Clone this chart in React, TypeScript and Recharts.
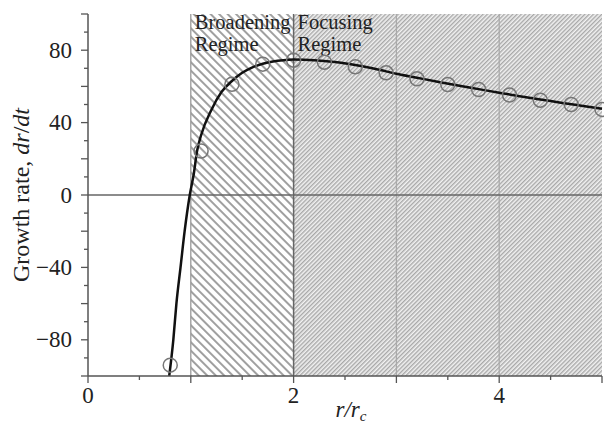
import React from 'react';
import {
  ComposedChart, Line, Scatter, XAxis, YAxis, ReferenceArea, ReferenceLine,
} from 'recharts';

// fitted curve
const curveX = [0.79, 0.83, 0.86, 0.9, 0.94, 0.99, 1.03, 1.06, 1.1, 1.2, 1.3, 1.4, 1.5, 1.6, 1.7, 1.8, 1.9, 2.0, 2.2, 2.4, 2.6, 2.8, 3.0, 3.2, 3.4, 3.6, 3.8, 4.0, 4.2, 4.4, 4.6, 4.8, 5.0];
const curveY = [-100, -80, -60, -40, -20, 0, 12, 24, 33, 47, 57, 63, 67.5, 70.5, 72.5, 73.8, 74.5, 74.8, 74.5, 73.5, 71.8, 69.6, 67, 64.8, 62.6, 60.5, 58.5, 56.5, 54.6, 52.8, 51, 49.3, 47.6];

// simulation points
const pointX = [0.8, 1.1, 1.4, 1.7, 2.0, 2.3, 2.6, 2.9, 3.2, 3.5, 3.8, 4.1, 4.4, 4.7, 5.0];
const pointY = [-94, 24.3, 61.2, 72.3, 74.5, 73.4, 70.8, 67.5, 64.2, 61, 58.3, 55.2, 52.4, 50, 47.3];

const xTicks = [0, 0.5, 1, 1.5, 2, 2.5, 3, 3.5, 4, 4.5, 5];
const xMajor = [0, 1, 2, 3, 4, 5];
const xLabels = [0, 2, 4];
const yTicks = [-100, -90, -80, -70, -60, -50, -40, -30, -20, -10, 0, 10, 20, 30, 40, 50, 60, 70, 80, 90, 100];
const yMajor = [-100, -80, -60, -40, -20, 0, 20, 40, 60, 80, 100];
const yLabels = [-80, -40, 0, 40, 80];

const curve = curveX.map((x, i) => ({ x, y: curveY[i] }));
const points = pointX.map((x, i) => ({ x, y: pointY[i] }));

const FONT = '"Liberation Serif", "DejaVu Serif", serif';
const TICK = '#555';

const fmt = (v: number) => (v < 0 ? '\u2212' + Math.abs(v) : String(v));

const LeftTick = ({ x, y, payload }: any) => {
  const v = payload.value;
  const len = yMajor.includes(v) ? 7 : 4;
  return (
    <g>
      <line x1={x - len} y1={y} x2={x} y2={y} stroke={TICK} strokeWidth={1.3} />
      {yLabels.includes(v) && (
        <text x={x - 16} y={y} textAnchor="end" dominantBaseline="central"
          fontFamily={FONT} fontSize={23} fill="#222">{fmt(v)}</text>
      )}
    </g>
  );
};

const RightTick = ({ x, y, payload }: any) => {
  const len = yMajor.includes(payload.value) ? 7 : 4;
  return <line x1={x - len} y1={y} x2={x} y2={y} stroke={TICK} strokeWidth={1.3} />;
};

const BottomTick = ({ x, y, payload }: any) => {
  const v = payload.value;
  const len = xMajor.includes(v) ? 7 : 4;
  return (
    <g>
      <line x1={x} y1={y} x2={x} y2={y + len} stroke={TICK} strokeWidth={1.3} />
      {xLabels.includes(v) && (
        <text x={x} y={y + 27} textAnchor="middle"
          fontFamily={FONT} fontSize={23} fill="#222">{fmt(v)}</text>
      )}
    </g>
  );
};

const TopTick = ({ x, y, payload }: any) => {
  const len = xMajor.includes(payload.value) ? 6 : 4;
  return <line x1={x} y1={y} x2={x} y2={y + len} stroke={TICK} strokeWidth={1.3} />;
};

const YTitle = ({ viewBox }: any) => {
  const cx = viewBox.x + 21;
  const cy = viewBox.y + viewBox.height / 2;
  return (
    <text x={cx} y={cy} transform={`rotate(-90 ${cx} ${cy})`} textAnchor="middle"
      dominantBaseline="central" fontFamily={FONT} fontSize={24} fill="#222">
      Growth rate, <tspan fontStyle="italic">dr</tspan>/<tspan fontStyle="italic">dt</tspan>
    </text>
  );
};

const XTitle = ({ viewBox }: any) => {
  const cx = viewBox.x + viewBox.width / 2 + 6;
  return (
    <text x={cx} y={viewBox.y + 41} textAnchor="middle" fontFamily={FONT} fontSize={23}
      fontStyle="italic" fill="#222">
      r/r<tspan fontSize={15} dy={4}>c</tspan>
    </text>
  );
};

const regimeLabel = (l1: string, l2: string) => ({ viewBox }: any) => (
  <text x={viewBox.x + 4} y={viewBox.y + 15} fontFamily={FONT} fontSize={20.5} fill="#222">
    <tspan x={viewBox.x + 4}>{l1}</tspan>
    <tspan x={viewBox.x + 4} dy={22}>{l2}</tspan>
  </text>
);

const Circle = ({ cx, cy }: any) => (
  <circle cx={cx} cy={cy} r={7} fill="none" stroke="#777" strokeWidth={1.5} />
);

export default function App() {
  return (
    <div style={{ position: 'absolute', left: 0, top: 0, width: 604, height: 425, background: '#fff' }}>
      <svg width={0} height={0} style={{ position: 'absolute' }}>
        <defs>
          <pattern id="hatchB" width={6} height={6} patternUnits="userSpaceOnUse" patternTransform="rotate(-45)">
            <rect width={6} height={6} fill="#fff" />
            <rect x={0} y={0} width={2} height={6} fill="#a0a0a0" />
          </pattern>
          <pattern id="hatchF" width={3} height={3} patternUnits="userSpaceOnUse" patternTransform="rotate(45)">
            <rect width={3} height={3} fill="#f2f2f2" />
            <rect x={0} y={0} width={1.4} height={3} fill="#a8a8a8" />
          </pattern>
        </defs>
      </svg>
      <ComposedChart width={604} height={425} margin={{ top: 14, right: 2, left: 0, bottom: 0 }}>
        <XAxis xAxisId={0} dataKey="x" type="number" domain={[0, 5]} ticks={xTicks} interval={0}
          tick={<BottomTick />} tickLine={false} tickSize={0} tickMargin={0} height={49}
          axisLine={{ stroke: TICK, strokeWidth: 1.5 }} allowDuplicatedCategory={false}
          label={<XTitle />} />
        <XAxis xAxisId="t" orientation="top" type="number" domain={[0, 5]} ticks={xTicks} interval={0}
          tick={<TopTick />} tickLine={false} tickSize={0} tickMargin={0} height={0}
          axisLine={{ stroke: TICK, strokeWidth: 1.5 }} />
        <YAxis yAxisId={0} type="number" domain={[-100, 100]} ticks={yTicks} interval={0}
          tick={<LeftTick />} tickLine={false} tickSize={0} tickMargin={0} width={88}
          axisLine={{ stroke: TICK, strokeWidth: 1.5 }} label={<YTitle />} />
        <YAxis yAxisId="r" orientation="right" type="number" domain={[-100, 100]} ticks={yTicks} interval={0}
          tick={<RightTick />} tickLine={false} tickSize={0} tickMargin={0} width={0}
          axisLine={{ stroke: TICK, strokeWidth: 1.5 }} />

        <ReferenceArea x1={1} x2={2} y1={-100} y2={100} fill="url(#hatchB)" fillOpacity={1}
          stroke="none" label={regimeLabel('Broadening', 'Regime')} />
        <ReferenceArea x1={2} x2={5} y1={-100} y2={100} fill="url(#hatchF)" fillOpacity={1}
          stroke="none" label={regimeLabel('Focusing', 'Regime')} />

        <ReferenceLine x={1} stroke="#999" strokeWidth={1.3} />
        <ReferenceLine x={2} stroke="#666" strokeWidth={1.5} />
        <ReferenceLine x={3} stroke="#aaa" strokeWidth={1.3} />
        <ReferenceLine x={4} stroke="#aaa" strokeWidth={1.3} />
        <ReferenceLine y={0} stroke="#666" strokeWidth={1.5} />

        <Scatter data={points} dataKey="y" shape={<Circle />} isAnimationActive={false} />
        <Line data={curve} dataKey="y" type="monotone" stroke="#111" strokeWidth={2.5}
          dot={false} activeDot={false} isAnimationActive={false} />
      </ComposedChart>
    </div>
  );
}
